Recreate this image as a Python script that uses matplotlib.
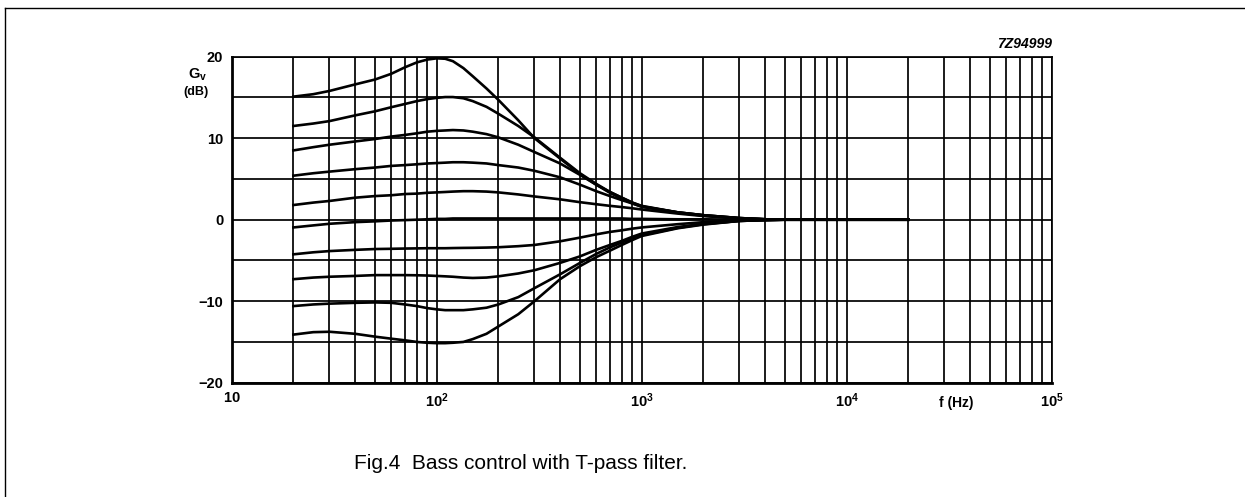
import matplotlib.pyplot as plt
from matplotlib.lines import Line2D
from matplotlib.ticker import NullFormatter

plt.rcParams["font.family"] = ["Liberation Sans", "DejaVu Sans"]
plt.rcParams["mathtext.fontset"] = "custom"
plt.rcParams["mathtext.rm"] = "Liberation Sans"
plt.rcParams["mathtext.bf"] = "Liberation Sans:bold"
plt.rcParams["mathtext.default"] = "bf"

# frequency points (Hz)
freq = [20, 25, 30, 40, 50, 60, 70, 80, 90, 100, 110, 120, 135, 150, 175, 200,
        250, 300, 400, 500, 600, 700, 800, 900, 1000, 1500, 2000, 3000, 4000,
        5000, 10000, 20000]

# gain (dB), one array per bass-control setting, top to bottom
gain_1 = [15.1, 15.4, 15.8, 16.6, 17.2, 17.9, 18.7, 19.3, 19.65, 19.8, 19.75, 19.45,
          18.6, 17.6, 16.1, 14.7, 12.2, 10.0, 7.5, 5.6, 4.3, 3.3, 2.6, 2.0, 1.6,
          0.9, 0.55, 0.2, 0.05, 0, 0, 0]
gain_2 = [11.5, 11.8, 12.1, 12.8, 13.3, 13.8, 14.2, 14.55, 14.8, 14.95, 15.05, 15.05,
          14.9, 14.55, 13.85, 13.0, 11.5, 10.1, 7.6, 5.7, 4.4, 3.4, 2.7, 2.1, 1.65,
          0.9, 0.55, 0.2, 0.05, 0, 0, 0]
gain_3 = [8.5, 8.9, 9.2, 9.6, 9.9, 10.2, 10.4, 10.6, 10.8, 10.9, 10.95, 11.0,
          10.95, 10.8, 10.5, 10.1, 9.2, 8.3, 6.9, 5.5, 4.3, 3.4, 2.7, 2.1, 1.7,
          0.9, 0.55, 0.2, 0.05, 0, 0, 0]
gain_4 = [5.4, 5.7, 5.9, 6.2, 6.4, 6.6, 6.7, 6.8, 6.9, 6.95, 7.0, 7.05,
          7.05, 7.0, 6.9, 6.7, 6.4, 6.0, 5.2, 4.3, 3.5, 2.9, 2.4, 2.0, 1.6,
          0.85, 0.5, 0.15, 0.05, 0, 0, 0]
gain_5 = [1.8, 2.1, 2.3, 2.7, 2.9, 3.0, 3.15, 3.2, 3.3, 3.35, 3.4, 3.45,
          3.5, 3.5, 3.45, 3.35, 3.1, 2.85, 2.5, 2.15, 1.9, 1.7, 1.55, 1.4, 1.25,
          0.75, 0.45, 0.15, 0.05, 0, 0, 0]
gain_6 = [-0.95, -0.7, -0.5, -0.3, -0.2, -0.1, -0.05, 0, 0.05, 0.1, 0.1, 0.15,
          0.15, 0.15, 0.15, 0.15, 0.15, 0.15, 0.15, 0.15, 0.15, 0.15, 0.15, 0.1, 0.1,
          0.05, 0.05, 0, 0, 0, 0, 0]
gain_7 = [-4.25, -4.0, -3.85, -3.7, -3.6, -3.57, -3.54, -3.52, -3.5, -3.5, -3.5, -3.48,
          -3.46, -3.45, -3.42, -3.38, -3.25, -3.1, -2.65, -2.2, -1.8, -1.5, -1.3, -1.1, -0.95,
          -0.55, -0.3, -0.1, -0.03, 0, 0, 0]
gain_8 = [-7.3, -7.1, -7.0, -6.9, -6.8, -6.8, -6.8, -6.82, -6.85, -6.9, -6.95, -7.0,
          -7.1, -7.15, -7.1, -6.95, -6.6, -6.2, -5.3, -4.5, -3.7, -3.1, -2.6, -2.1, -1.7,
          -0.9, -0.5, -0.15, -0.05, 0, 0, 0]
gain_9 = [-10.6, -10.4, -10.3, -10.2, -10.15, -10.2, -10.4, -10.6, -10.85, -11.0, -11.1, -11.1,
          -11.1, -11.0, -10.8, -10.4, -9.5, -8.4, -6.7, -5.3, -4.2, -3.4, -2.8, -2.3, -1.9,
          -1.0, -0.55, -0.15, -0.05, 0, 0, 0]
gain_10 = [-14.1, -13.8, -13.75, -14.0, -14.35, -14.6, -14.8, -15.0, -15.1, -15.15, -15.15, -15.1,
           -15.0, -14.65, -14.0, -13.1, -11.6, -10.0, -7.3, -5.7, -4.6, -3.8, -3.1, -2.5, -2.0,
           -1.05, -0.6, -0.15, -0.05, 0, 0, 0]

curves = [gain_1, gain_2, gain_3, gain_4, gain_5,
          gain_6, gain_7, gain_8, gain_9, gain_10]

x_major = [10, 100, 1000, 10000, 100000]
x_labels = ["$10$", "$10^{2}$", "$10^{3}$", "$10^{4}$", "$10^{5}$"]
x_grid = [20, 30, 40, 50, 60, 70, 80, 90,
          200, 300, 400, 500, 600, 700, 800, 900,
          2000, 3000, 4000, 5000, 6000, 7000, 8000, 9000,
          20000, 30000, 40000, 50000, 60000, 70000, 80000, 90000]
y_major = [-20, -10, 0, 10, 20]
y_labels = ["\u221220", "\u221210", "0", "10", "20"]
y_grid = [-15, -5, 5, 15]


def main():
    fig = plt.figure(figsize=(12.45, 4.97), dpi=100)
    ax = fig.add_axes([0.1861, 0.23, 0.6586, 0.6559])

    for g in curves:
        ax.plot(freq, g, color="black", lw=1.9, zorder=3)

    ax.set_xscale("log")
    ax.set_xlim(10, 100000)
    ax.set_ylim(-20, 20)

    ax.set_xticks(x_major)
    ax.set_xticklabels(x_labels)
    ax.set_xticks(x_grid, minor=True)
    ax.xaxis.set_minor_formatter(NullFormatter())
    ax.set_yticks(y_major)
    ax.set_yticklabels(y_labels)
    ax.set_yticks(y_grid, minor=True)

    ax.tick_params(which="both", length=0)
    ax.tick_params(axis="x", pad=6, labelsize=10.5)
    ax.tick_params(axis="y", pad=6, labelsize=10.5)
    for lab in ax.get_yticklabels():
        lab.set_fontweight("bold")

    ax.grid(True, which="both", color="black", lw=1.25)
    for side in ["top", "right"]:
        ax.spines[side].set_linewidth(1.25)
    for side in ["left", "bottom"]:
        ax.spines[side].set_linewidth(2.0)

    ax.text(-0.041, 0.943, "$G_{v}$", transform=ax.transAxes,
            ha="center", va="center", fontsize=10.5)
    ax.text(-0.044, 0.893, "(dB)", transform=ax.transAxes,
            ha="center", va="center", fontsize=9, fontweight="bold")
    ax.text(0.884, -0.062, "f (Hz)", transform=ax.transAxes,
            ha="center", va="center", fontsize=10, fontweight="bold")
    ax.text(1.0, 1.038, "7Z94999", transform=ax.transAxes,
            ha="right", va="center", fontsize=10, fontweight="bold", style="italic")

    fig.text(0.4185, 0.068, "Fig.4  Bass control with T-pass filter.",
             ha="center", va="center", fontsize=15)

    # frame around the figure
    fig.add_artist(Line2D([0.004, 1.0], [0.984, 0.984], color="black", lw=1.0))
    fig.add_artist(Line2D([0.004, 0.004], [0.0, 0.984], color="black", lw=1.0))

    fig.savefig("out.png", dpi=100)
    plt.close(fig)


if __name__ == "__main__":
    main()
